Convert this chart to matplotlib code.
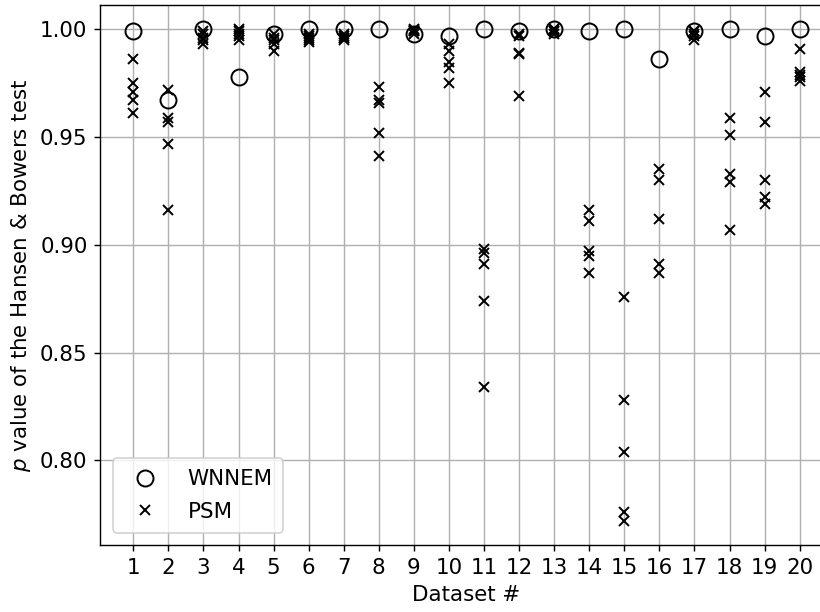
import numpy as np
import matplotlib
matplotlib.use("Agg")
import matplotlib.pyplot as plt

plt.rcParams["font.size"] = 12

datasets = np.arange(1, 21)

# WNNEM: one p value per dataset
wnnem_p = [0.999, 0.967, 1.000, 0.978, 0.998, 1.000, 1.000, 1.000, 0.998, 0.997,
           1.000, 0.999, 1.000, 0.999, 1.000, 0.986, 0.999, 1.000, 0.997, 1.000]

# PSM: five runs per dataset
psm_p = [
    [0.986, 0.975, 0.971, 0.967, 0.961],
    [0.972, 0.959, 0.957, 0.947, 0.916],
    [0.999, 0.998, 0.996, 0.995, 0.993],
    [1.000, 0.999, 0.998, 0.997, 0.995],
    [0.998, 0.996, 0.995, 0.993, 0.990],
    [0.998, 0.997, 0.996, 0.995, 0.994],
    [0.998, 0.997, 0.996, 0.996, 0.995],
    [0.973, 0.967, 0.966, 0.952, 0.941],
    [1.000, 0.9995, 0.999, 0.999, 0.998],
    [0.993, 0.990, 0.985, 0.982, 0.975],
    [0.898, 0.896, 0.891, 0.874, 0.834],
    [0.998, 0.997, 0.989, 0.9885, 0.969],
    [1.000, 1.000, 0.999, 0.999, 0.998],
    [0.916, 0.911, 0.897, 0.895, 0.887],
    [0.876, 0.828, 0.804, 0.776, 0.772],
    [0.935, 0.930, 0.912, 0.891, 0.887],
    [0.999, 0.999, 0.998, 0.997, 0.995],
    [0.959, 0.951, 0.933, 0.929, 0.907],
    [0.971, 0.957, 0.930, 0.922, 0.919],
    [0.991, 0.980, 0.979, 0.978, 0.976],
]

W, H, DPI = 820, 612, 128
fig = plt.figure(figsize=(W / DPI, H / DPI), dpi=DPI)
ax = fig.add_axes([100 / W, (H - 545.3) / H, 733 / W, 540.6 / H])

ax.set_axisbelow(True)
ax.grid(True, color="#b0b0b0", linewidth=0.8)

ax.plot(datasets, wnnem_p, linestyle="none", marker="o", markersize=9,
        markerfacecolor="none", markeredgecolor="black", markeredgewidth=1.1,
        label="WNNEM")

psm_x = np.repeat(datasets, [len(r) for r in psm_p])
psm_y = np.concatenate([np.asarray(r) for r in psm_p])
ax.plot(psm_x, psm_y, linestyle="none", marker="x", markersize=6,
        color="black", markeredgewidth=1.1, label="PSM")

ax.set_xlim(0.05, 20.95)
ax.set_ylim(0.7606, 1.0114)
ax.set_xticks(datasets)
ax.set_yticks([0.80, 0.85, 0.90, 0.95, 1.00])
ax.set_yticklabels([f"{v:.2f}" for v in [0.80, 0.85, 0.90, 0.95, 1.00]])

ax.set_xlabel("Dataset #")
ax.set_ylabel("$p$ value of the Hansen & Bowers test")

ax.legend(loc="lower left", borderpad=0.5, labelspacing=0.6,
          handletextpad=1.0, borderaxespad=0.6)

fig.savefig("out.png", dpi=DPI)
